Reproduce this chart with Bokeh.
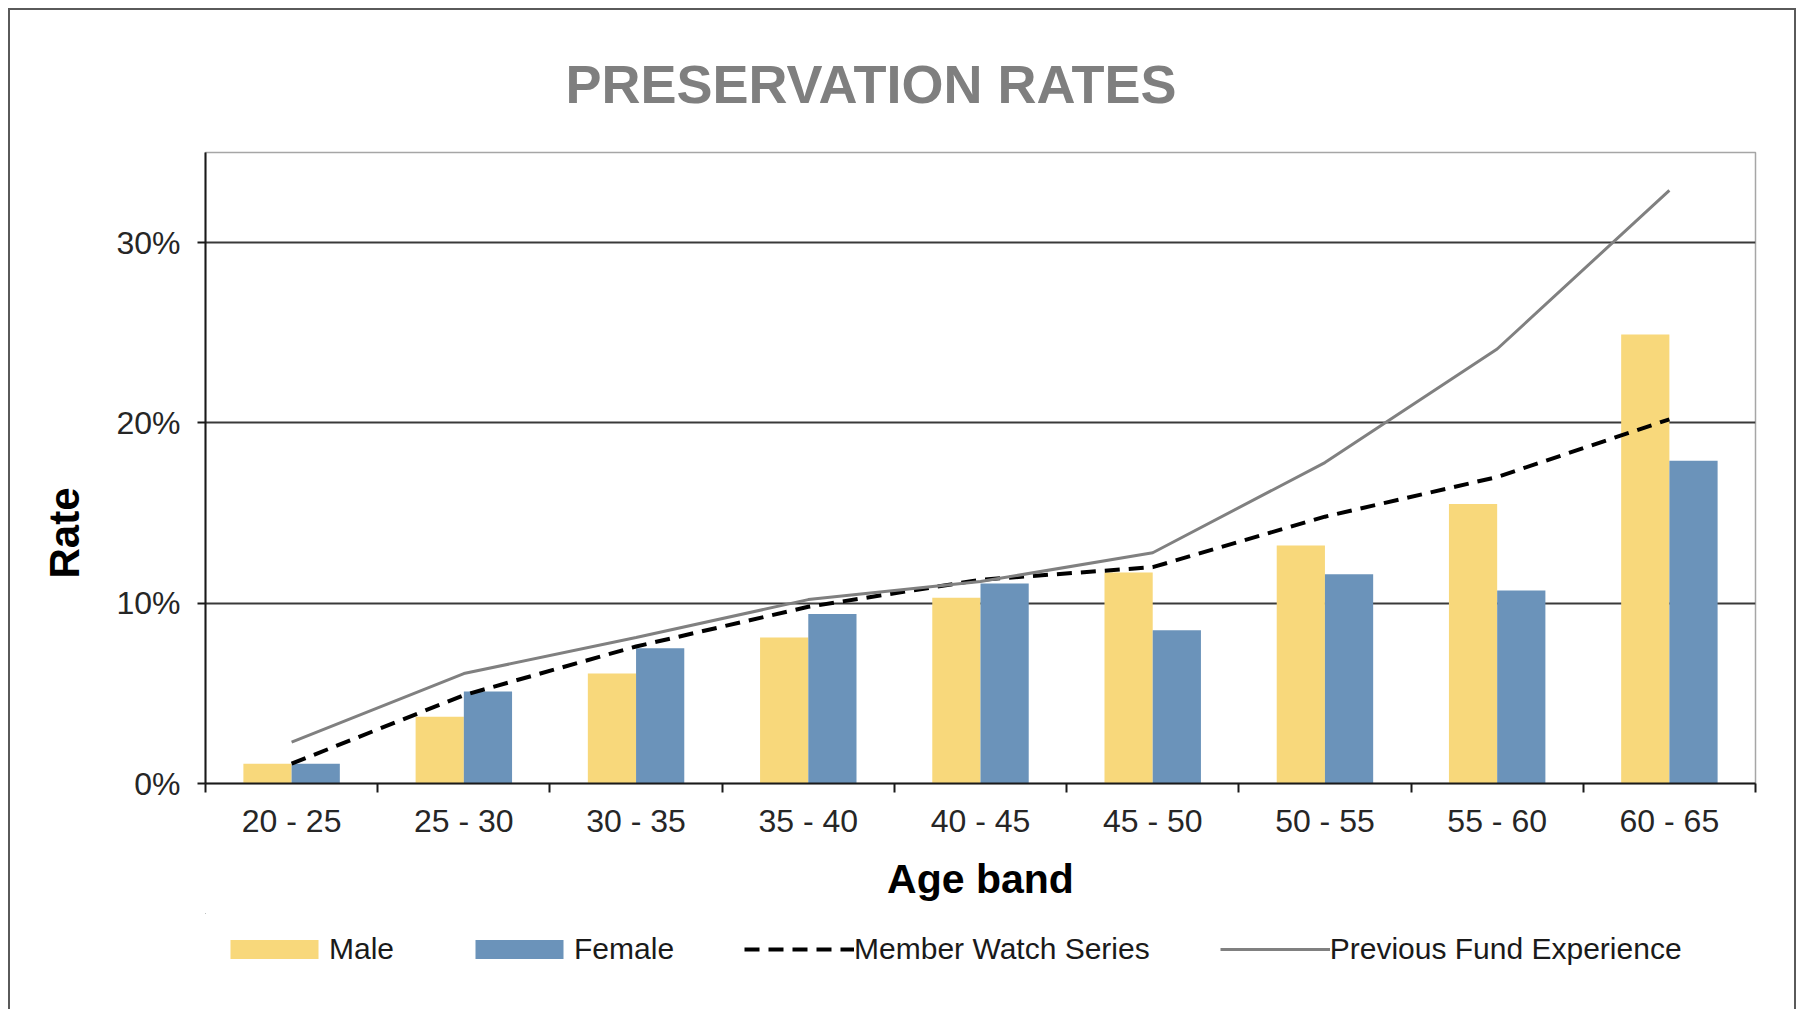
import numpy as np
from bokeh.plotting import figure
from bokeh.layouts import column
from bokeh.models import (Range1d, FixedTicker, NumeralTickFormatter, Legend,
                          LegendItem, Title, ColumnDataSource)
from bokeh.transform import dodge
from bokeh.embed import file_html
from bokeh.resources import INLINE

# Preservation rates (%) by age band
age_bands = ["20 - 25", "25 - 30", "30 - 35", "35 - 40", "40 - 45",
             "45 - 50", "50 - 55", "55 - 60", "60 - 65"]
male = [1.1, 3.7, 6.1, 8.1, 10.3, 11.7, 13.2, 15.5, 24.9]
female = [1.1, 5.1, 7.5, 9.4, 11.1, 8.5, 11.6, 10.7, 17.9]
member_watch = [1.1, 4.9, 7.6, 9.8, 11.3, 12.0, 14.8, 17.0, 20.2]
previous_fund = [2.3, 6.1, 8.1, 10.2, 11.2, 12.8, 17.8, 24.1, 32.9]
y_ticks = [0, 10, 20, 30]

FONT = "Liberation Sans"
MALE_COLOR = "#F8D87B"
FEMALE_COLOR = "#6B93BA"
MEMBER_STYLE = dict(line_color="#000000", line_width=4, line_dash="15 9")
FUND_STYLE = dict(line_color="#808080", line_width=3)

x_centers = np.arange(len(age_bands)) + 0.5
src = ColumnDataSource(dict(
    x=x_centers,
    male=np.array(male) / 100,
    female=np.array(female) / 100,
    member=np.array(member_watch) / 100,
    fund=np.array(previous_fund) / 100,
))


def draw_series(fig):
    """Bars for male/female plus the two comparison lines."""
    r_male = fig.vbar(x=dodge("x", -0.14), top="male", width=0.28, bottom=0,
                      source=src, fill_color=MALE_COLOR, line_color=None)
    r_female = fig.vbar(x=dodge("x", 0.14), top="female", width=0.28, bottom=0,
                        source=src, fill_color=FEMALE_COLOR, line_color=None)
    r_member = fig.line(x="x", y="member", source=src, **MEMBER_STYLE)
    r_fund = fig.line(x="x", y="fund", source=src, **FUND_STYLE)
    return r_male, r_female, r_member, r_fund


# ---- main chart ----
p = figure(width=1784, height=903,
           x_range=Range1d(0, len(age_bands)), y_range=Range1d(0, 0.35),
           output_backend="svg", toolbar_location=None,
           min_border_left=195, min_border_right=39,
           min_border_top=142, min_border_bottom=130)

p.title.text = "PRESERVATION RATES"
p.title.text_font = FONT
p.title.text_font_size = "54px"
p.title.text_font_style = "bold"
p.title.text_color = "#7F7F7F"
p.title.align = "left"
p.title.offset = 360
p.title.standoff = 78

p.outline_line_color = "#A6A6A6"
p.outline_line_width = 1.5
p.xgrid.visible = False
p.ygrid.grid_line_color = "#3A3A3A"
p.ygrid.grid_line_width = 2

# Y axis
p.yaxis.ticker = FixedTicker(ticks=[t / 100 for t in y_ticks])
p.yaxis.formatter = NumeralTickFormatter(format="0%")
p.yaxis.major_tick_out = 8
p.yaxis.major_tick_in = 0
p.yaxis.minor_tick_out = 0
p.yaxis.major_tick_line_color = "#1A1A1A"
p.yaxis.major_tick_line_width = 2
p.yaxis.axis_line_color = "#1A1A1A"
p.yaxis.axis_line_width = 2
p.yaxis.major_label_standoff = 17
p.yaxis.major_label_text_font = FONT
p.yaxis.major_label_text_font_size = "32px"
p.yaxis.major_label_text_color = "#262626"

p.add_layout(Title(text="Rate", align="left", offset=205, standoff=52,
                   text_font=FONT, text_font_size="42px",
                   text_font_style="bold", text_color="#000000"), "left")

# X axis: labels at band centres, tick marks on band boundaries
p.xaxis.ticker = FixedTicker(ticks=list(x_centers),
                             minor_ticks=list(range(len(age_bands) + 1)))
p.xaxis.major_label_overrides = {float(c): b for c, b in zip(x_centers, age_bands)}
p.xaxis.major_tick_out = 0
p.xaxis.major_tick_in = 0
p.xaxis.minor_tick_out = 9
p.xaxis.minor_tick_in = 0
p.xaxis.minor_tick_line_color = "#1A1A1A"
p.xaxis.minor_tick_line_width = 2
p.xaxis.axis_line_color = "#1A1A1A"
p.xaxis.axis_line_width = 2
p.xaxis.major_label_standoff = 10
p.xaxis.major_label_text_font = FONT
p.xaxis.major_label_text_font_size = "32px"
p.xaxis.major_label_text_color = "#262626"
p.xaxis.axis_label = "Age band"
p.xaxis.axis_label_text_font = FONT
p.xaxis.axis_label_text_font_size = "41px"
p.xaxis.axis_label_text_font_style = "bold"
p.xaxis.axis_label_text_color = "#000000"
p.xaxis.axis_label_standoff = 14

draw_series(p)

# ---- legend strip under the chart ----
# Same series drawn again, with ranges placed well away from the data so
# only the legend swatches show up.
pl = figure(width=1784, height=96,
            x_range=Range1d(100, 100 + len(age_bands)), y_range=Range1d(-2, -1),
            output_backend="svg", toolbar_location=None, min_border=0,
            x_axis_type=None, y_axis_type=None, outline_line_color=None)
pl.grid.visible = False
k_male, k_female, k_member, k_fund = draw_series(pl)

legend = Legend(items=[
    LegendItem(label="Male", renderers=[k_male]),
    LegendItem(label="Female", renderers=[k_female]),
    LegendItem(label="Member Watch Series", renderers=[k_member]),
    LegendItem(label="Previous Fund Experience", renderers=[k_fund]),
], orientation="horizontal", location=(14, 43),
    glyph_width=110, glyph_height=24, label_standoff=0, spacing=70,
    label_text_font=FONT, label_text_font_size="30px",
    label_text_color="#1A1A1A", border_line_alpha=0,
    background_fill_alpha=0, padding=0, margin=0)
pl.add_layout(legend)

page = column(p, pl, spacing=0)
page.styles = {"margin-left": "8px", "margin-top": "8px",
               "border-left": "2px solid #5a5a5a",
               "border-top": "2px solid #5a5a5a",
               "border-right": "2px solid #5a5a5a"}

open("out.html", "w").write(file_html(page, INLINE))
